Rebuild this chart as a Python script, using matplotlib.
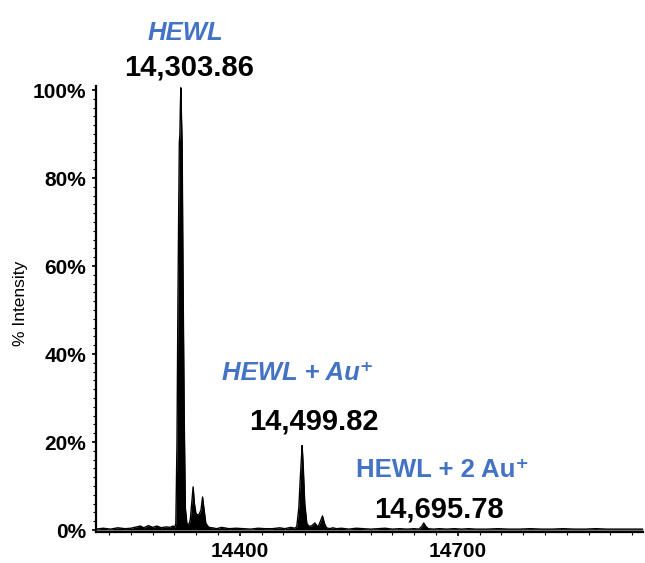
"""
Deconvoluted mass spectrum of HEWL with Au+ adducts
"""

import matplotlib
matplotlib.use("Agg")
import matplotlib.pyplot as plt
from matplotlib.ticker import MultipleLocator, FuncFormatter

plt.rcParams["font.family"] = ["Liberation Sans", "DejaVu Sans"]

# spectrum trace (mass, % intensity)
mass = [
    14202, 14212, 14222, 14232, 14242, 14250, 14258, 14263, 14268, 14274,
    14280, 14286, 14292, 14298, 14304, 14308, 14310.5,
    14311.9, 14313.5, 14314.7, 14315.8, 14316.7, 14317.5, 14318.1, 14318.8,
    14319.5, 14320.6, 14321.3, 14322.0, 14323.5, 14325.0, 14327.1, 14328.4,
    14330.5, 14331.9, 14334.0, 14335.7, 14337.5, 14339.5, 14341.5, 14344.0,
    14346.5, 14348.7, 14350.5, 14353.2, 14357.3, 14362, 14368, 14375, 14385,
    14395, 14405, 14415, 14425, 14435, 14445, 14455, 14462, 14470, 14476,
    14478.4, 14481.2, 14483.3, 14485.0, 14485.7, 14486.5, 14487.4, 14489.4,
    14492.2, 14495.4, 14499.5, 14503.2, 14506.0, 14507.7, 14511.0, 14513.8,
    14516.5, 14519.3, 14524, 14528, 14533, 14540, 14550, 14560, 14570, 14580,
    14590, 14600, 14610, 14620, 14630, 14640, 14646.5, 14650.5, 14653.2,
    14656.0, 14659.5, 14666, 14675, 14685, 14695, 14705, 14715, 14725, 14740,
    14755, 14770, 14785, 14800, 14815, 14830, 14845, 14860, 14875, 14890,
    14905, 14920, 14935, 14955,
]
intensity = [
    0.2, 0.4, 0.2, 0.5, 0.3, 0.4, 0.7, 0.9, 0.5, 1.0,
    0.6, 0.9, 0.5, 0.7, 0.6, 0.9, 0.6,
    1.5, 20.0, 50.0, 72.0, 88.0, 90.0, 96.0, 100.5,
    95.0, 88.0, 70.0, 54.0, 25.0, 5.0, 1.5, 1.2,
    1.5, 2.5, 6.5, 9.8, 6.0, 3.8, 3.4, 3.6,
    4.5, 7.5, 5.0, 1.5, 0.6, 0.5, 0.3, 0.6, 0.3,
    0.4, 0.3, 0.2, 0.4, 0.3, 0.3, 0.5, 0.3, 0.6, 0.4,
    0.8, 5.0, 12.0, 17.0, 19.2, 17.0, 14.0, 6.0,
    1.5, 0.8, 1.0, 1.6, 1.0, 0.7, 2.0, 3.2,
    1.5, 0.5, 0.3, 0.5, 0.3, 0.4, 0.2, 0.4, 0.3, 0.2,
    0.3, 0.4, 0.2, 0.3, 0.2, 0.3, 0.2, 0.8, 1.6,
    0.8, 0.3, 0.2, 0.3, 0.2, 0.3, 0.2, 0.3, 0.2, 0.2,
    0.3, 0.2, 0.2, 0.3, 0.2, 0.2, 0.3, 0.2, 0.2, 0.3,
    0.2, 0.2, 0.2, 0.2,
]

# peak annotations
species = ["HEWL", "HEWL + Au\u207a", "HEWL + 2 Au\u207a"]
peak_labels = ["14,303.86", "14,499.82", "14,695.78"]

x_major = [14400, 14700]
y_ticks = [0, 20, 40, 60, 80, 100]

BLUE = "#4472C4"

W, H = 645, 563
fig = plt.figure(figsize=(W / 100, H / 100), dpi=100)
ax = fig.add_axes([96 / W, (H - 532.2) / H, (643 - 96) / W, 446.6 / H])

ax.fill_between(mass, 0, intensity, color="black", linewidth=0)
ax.plot(mass, intensity, color="black", linewidth=1.0)

ax.set_xlim(14202, 14955)
ax.set_ylim(-0.5, 101)

for side in ("top", "right"):
    ax.spines[side].set_visible(False)
for side in ("left", "bottom"):
    ax.spines[side].set_linewidth(1.6)

ax.set_xticks(x_major)
ax.xaxis.set_minor_locator(MultipleLocator(30))
ax.set_yticks(y_ticks)
ax.yaxis.set_major_formatter(FuncFormatter(lambda v, p: f"{v:.0f}%"))
ax.yaxis.set_minor_locator(MultipleLocator(2))

ax.tick_params(axis="both", which="major", length=3, width=1.2, labelsize=15)
ax.tick_params(axis="both", which="minor", length=2, width=0.8)
ax.tick_params(axis="x", pad=4)
ax.tick_params(axis="y", pad=4)
for lab in ax.get_xticklabels() + ax.get_yticklabels():
    lab.set_fontweight("bold")

fig.text(21 / W, 1 - 303 / H, "% Intensity", rotation=90, ha="center",
         va="center", fontsize=12.5)

# species names (blue) and masses (black), positions in figure pixels
name_pos = [(185, 40), (298, 380), (443, 477)]
name_style = ["italic", "italic", "normal"]
mass_pos = [(189, 76), (314, 430), (439, 517)]

for name, (px, py), st in zip(species, name_pos, name_style):
    fig.text(px / W, 1 - py / H, name, ha="center", va="baseline",
             fontsize=18.5, fontweight="bold", style=st, color=BLUE)
for lab, (px, py) in zip(peak_labels, mass_pos):
    fig.text(px / W, 1 - py / H, lab, ha="center", va="baseline",
             fontsize=21, fontweight="bold", color="black")

fig.savefig("out.png", dpi=100)
plt.close(fig)
